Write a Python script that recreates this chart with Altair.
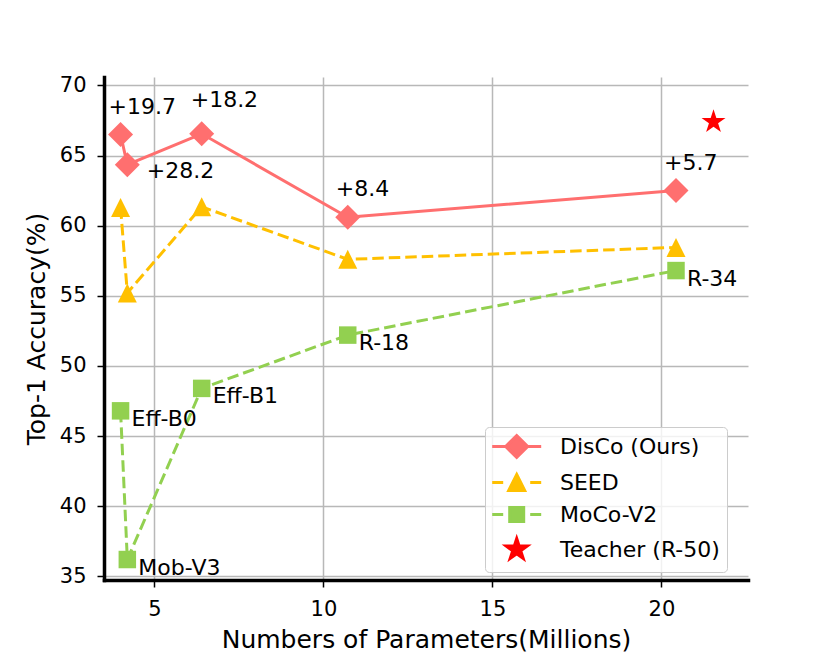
import altair as alt
import pandas as pd

# ---------------- data ----------------
params = [4.0, 4.2, 6.4, 10.72, 20.43]
disco = [66.5, 64.35, 66.55, 60.6, 62.5]
seed = [61.3, 55.2, 61.35, 57.6, 58.45]
moco = [46.8, 36.2, 48.4, 52.2, 56.8]
teacher_x = [21.54]
teacher_y = [67.4]
model_names = ["Eff-B0", "Mob-V3", "Eff-B1", "R-18", "R-34"]
gains = ["+19.7", "+28.2", "+18.2", "+8.4", "+5.7"]
series_names = ["DisCo (Ours)", "SEED", "MoCo-V2", "Teacher (R-50)"]
colors = ["#ff6f6f", "#ffc000", "#92d050", "#ff0000"]

FONT = "DejaVu Sans"

df_disco = pd.DataFrame({"x": params, "y": disco, "series": series_names[0], "gain": gains})
df_seed = pd.DataFrame({"x": params, "y": seed, "series": series_names[1]})
df_moco = pd.DataFrame({"x": params, "y": moco, "series": series_names[2], "name": model_names})
df_teacher = pd.DataFrame({"x": teacher_x, "y": teacher_y, "series": series_names[3]})
df_all = pd.concat([df_disco[["x", "y", "series"]], df_seed, df_moco[["x", "y", "series"]], df_teacher])

# ---------------- shapes ----------------
def star(r_out, r_in=0.381966, cx=0.0):
    import math
    pts = []
    for k in range(10):
        ang = math.radians(-90 + 36 * k)
        r = r_out if k % 2 == 0 else r_out * r_in
        pts.append((cx + r * math.cos(ang), r * math.sin(ang)))
    return "M" + "L".join(f"{x:.3f},{y:.3f}" for x, y in pts) + "Z"

TRI = "M0,-1L1,1L-1,1Z"
STAR = star(1.0)

# legend symbols (unit = 11 px, shifted right)
U = 11.0
SH = 12.2
def u(v):
    return f"{(v) / U:.3f}"
def ux(v):
    return f"{(v + SH) / U:.3f}"

leg_disco = (f"M{ux(-24.5)},0L{ux(24.5)},0"
             f"M{ux(0)},{u(-11)}L{ux(11)},0L{ux(0)},{u(11)}L{ux(-11)},0Z")
dashes = f"M{ux(-24.5)},0L{ux(-13.5)},0M{ux(13.5)},0L{ux(24.5)},0"
leg_seed = dashes + f"M{ux(0)},{u(-8)}L{ux(8)},{u(8)}L{ux(-8)},{u(8)}Z"
leg_moco = dashes + f"M{ux(-7)},{u(-7)}L{ux(7)},{u(-7)}L{ux(7)},{u(7)}L{ux(-7)},{u(7)}Z"
leg_teacher = star(11.0 / U, cx=SH / U)

# ---------------- encodings ----------------
x_enc = alt.X(
    "x:Q",
    scale=alt.Scale(domain=[3.51, 22.56], nice=False, zero=False),
    axis=alt.Axis(
        values=[5, 10, 15, 20], format="d",
        title="Numbers of Parameters(Millions)",
        titleX=322, titleY=67, titleBaseline="alphabetic", titleAlign="center",
    ),
)
y_enc = alt.Y(
    "y:Q",
    scale=alt.Scale(domain=[34.74, 70.6], nice=False, zero=False),
    axis=alt.Axis(
        values=[35, 40, 45, 50, 55, 60, 65, 70], format="d",
        title="Top-1 Accuracy(%)",
        titleX=-60, titleY=251.5, titleBaseline="alphabetic", titleAlign="center", titleAngle=-90,
    ),
)

def line(df, color, dash=None):
    kw = dict(color=color, strokeWidth=3)
    if dash:
        kw["strokeDash"] = dash
    return alt.Chart(df).mark_line(**kw).encode(x=x_enc, y=y_enc)

def pts(df, color, shape, size):
    return alt.Chart(df).mark_point(filled=True, color=color, shape=shape, size=size,
                                    opacity=1, strokeWidth=0).encode(x=x_enc, y=y_enc)

def txt(df, field, dx, dy):
    return alt.Chart(df).mark_text(align="left", baseline="alphabetic", dx=dx, dy=dy,
                                   fontSize=22, font=FONT, color="black").encode(
        x=x_enc, y=y_enc, text=f"{field}:N")

lines = [
    line(df_disco, colors[0]),
    line(df_seed, colors[1], [11.5, 5]),
    line(df_moco, colors[2], [11.5, 5]),
]
points = [
    pts(df_disco, colors[0], "diamond", 625),
    pts(df_seed, colors[1], TRI, 361),
    pts(df_moco, colors[2], "square", 306),
    pts(df_teacher, colors[3], STAR, 635),
]

gain_a = df_disco[df_disco["gain"].isin(["+19.7", "+8.4", "+5.7"])]
gain_b = df_disco[df_disco["gain"] == "+18.2"]
gain_c = df_disco[df_disco["gain"] == "+28.2"]
texts = [
    txt(gain_a, "gain", -12, -21),
    txt(gain_b, "gain", -11, -27),
    txt(gain_c, "gain", 19.5, 13),
    txt(df_moco, "name", 11, 15),
]

legend_layer = alt.Chart(df_all).mark_point(filled=True, opacity=0, size=484, strokeWidth=3).encode(
    x=x_enc, y=y_enc,
    fill=alt.Fill("series:N", scale=alt.Scale(domain=series_names, range=colors), legend=alt.Legend(title=None)),
    stroke=alt.Stroke("series:N", scale=alt.Scale(domain=series_names, range=colors), legend=alt.Legend(title=None)),
    shape=alt.Shape("series:N",
                    scale=alt.Scale(domain=series_names, range=[leg_disco, leg_seed, leg_moco, leg_teacher]),
                    legend=alt.Legend(title=None)),
)

chart = alt.layer(*lines, *points, *texts, legend_layer).properties(
    width=644, height=503,
    autosize=alt.AutoSizeParams(type="none"),
    padding={"left": 96, "top": 69, "right": 70, "bottom": 80},
).configure_view(stroke="transparent").configure_axis(
    grid=True, gridColor="#b8b8b8", gridWidth=1.5,
    domainColor="black", domainWidth=3.5, domainCap="square",
    tickColor="black", tickSize=7, tickWidth=1.5,
    labelFont=FONT, labelFontSize=21, labelColor="black", labelPadding=11,
    titleFont=FONT, titleFontSize=25, titleFontWeight="normal", titleColor="black",
).configure_legend(
    orient="none", legendX=381, legendY=350,
    padding=7, rowPadding=4, labelOffset=43,
    labelFont=FONT, labelFontSize=22, labelColor="black",
    symbolSize=484, symbolStrokeWidth=3, symbolOpacity=1,
    strokeColor="#cccccc", fillColor="rgba(255,255,255,0.8)", cornerRadius=4,
)

chart.save("out.html", embed_options={"renderer": "svg", "actions": False})
